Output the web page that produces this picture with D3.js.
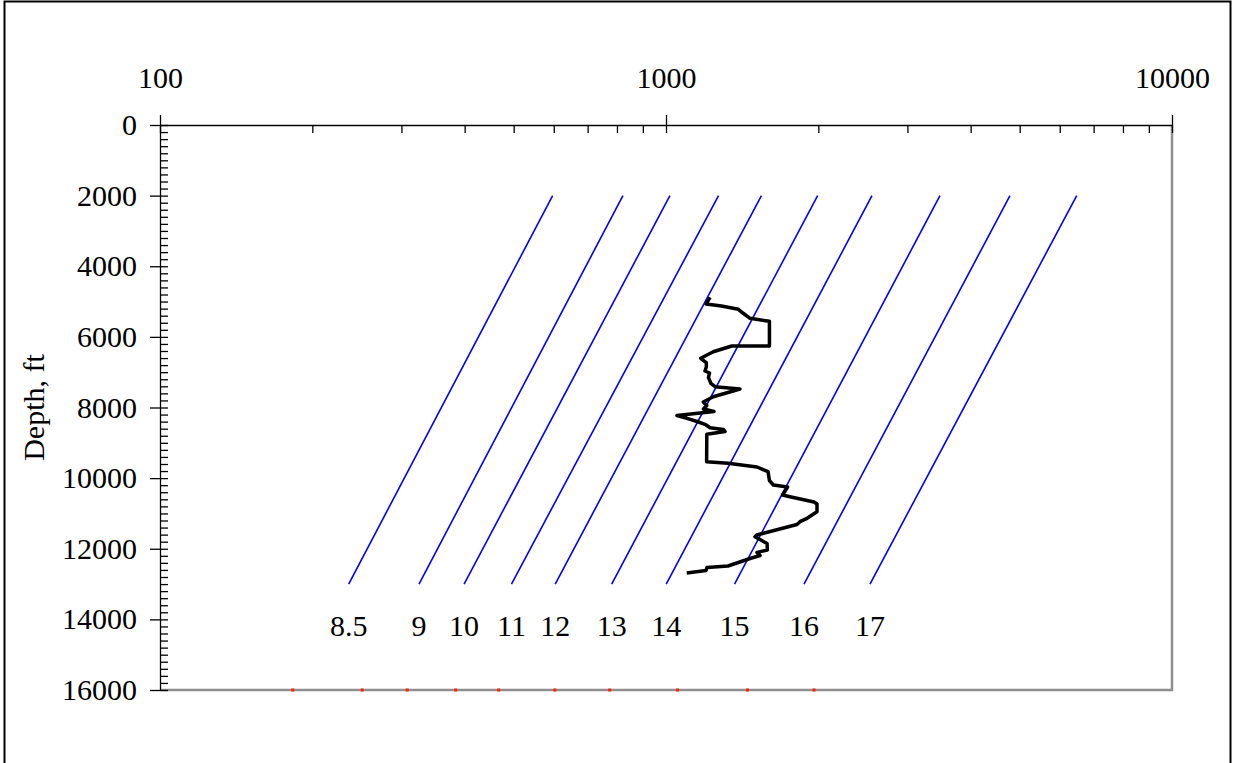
<!DOCTYPE html>
<html>
<head>
<meta charset="utf-8">
<script src="https://cdn.jsdelivr.net/npm/d3@7"></script>
<style>
	html, body { margin: 0; padding: 0; background: #fff; }
	svg { display: block; font-family: 'Times New Roman', 'Liberation Serif', serif; }
</style>
</head>
<body>
<svg id="chart"></svg>
<script>
;(() => {
	'use strict';

	// axis labels
	const valueTickLabels = [100, 1000, 10000],
		depthTickLabels = [0, 2000, 4000, 6000, 8000, 10000, 12000, 14000, 16000];

	// gradient lines: value at the shallow end, at the deep end, and the marker at 16000 ft
	const lineLabels = ['8.5', '9', '10', '11', '12', '13', '14', '15', '16', '17'],
		lineTopValues = [597, 822, 1018, 1270, 1544, 1994, 2553, 3479, 4784, 6482],
		lineBottomValues = [236, 325, 399, 495, 604, 781, 1001, 1366, 1874, 2530],
		lineMarkerValues = [183, 251, 308, 384, 467, 603, 774, 1054, 1449, 1961],
		lineTopDepth = 2000,
		lineBottomDepth = 13000,
		lineMarkerDepth = 16000;

	// measured log
	const curveDepth = [4880, 5070, 5126, 5219, 5332, 5474, 5559, 6258, 6258, 6420,
			6607, 6731, 6839, 6966, 7023, 7145, 7320, 7411, 7476, 7694,
			7844, 7943, 8042, 8113, 8227, 8306, 8396, 8476, 8572, 8623,
			8680, 8759, 9535, 9580, 9685, 9818, 10067, 10195, 10251, 10478,
			10526, 10676, 10733, 10951, 11138, 11234, 11313, 11611, 11659, 11851,
			12035, 12106, 12191, 12276, 12488, 12531, 12616, 12687],
		curveValue = [1222, 1200, 1287, 1390, 1421, 1466, 1601, 1601, 1349, 1240,
			1171, 1201, 1202, 1194, 1219, 1213, 1227, 1250, 1400, 1240,
			1185, 1204, 1186, 1244, 1051, 1100, 1152, 1194, 1222, 1299,
			1308, 1204, 1203, 1326, 1513, 1591, 1601, 1630, 1739, 1700,
			1758, 1961, 1988, 1988, 1900, 1840, 1815, 1511, 1499, 1584,
			1586, 1513, 1534, 1466, 1326, 1205, 1200, 1099];

	const width = 1233,
		height = 763,
		plot = {left: 160, right: 1172, top: 125, bottom: 690};

	const x = d3.scaleLog().domain([100, 10000]).range([plot.left, plot.right]),
		y = d3.scaleLinear().domain([0, 16000]).range([plot.top, plot.bottom]);

	const svg = d3.select('#chart')
		.attr('width', width)
		.attr('height', height);


	/**
	* frame and plot area
	* @returns {undefined}
	*/
	const drawFrame = function() {
		svg.append('rect')
			.attr('x', 0).attr('y', 0)
			.attr('width', width).attr('height', height)
			.attr('fill', '#fff');

		svg.append('rect')
			.attr('x', 4.5).attr('y', 1.5)
			.attr('width', 1226).attr('height', 820)
			.attr('fill', 'none')
			.attr('stroke', '#000')
			.attr('stroke-width', 2);

		// right + bottom edge of the plot area
		svg.append('path')
			.attr('d', `M${plot.left},${plot.bottom}H${plot.right}V${plot.top}`)
			.attr('fill', 'none')
			.attr('stroke', '#8f8f8f')
			.attr('stroke-width', 2.5);
	};


	/**
	* axes with major and minor ticks
	* @returns {undefined}
	*/
	const drawAxes = function() {
		const minorValues = x.ticks().filter((v) => valueTickLabels.indexOf(v) === -1);

		// top axis minor ticks point down into the plot
		svg.append('g')
			.attr('transform', `translate(0,${plot.top})`)
			.call(d3.axisTop(x).tickValues(minorValues).tickSize(-8).tickSizeOuter(0).tickFormat(''))
			.call((g) => g.select('.domain').remove());

		svg.append('g')
			.attr('class', 'top-axis')
			.attr('transform', `translate(0,${plot.top})`)
			.call(d3.axisTop(x).tickValues(valueTickLabels).tickSize(10).tickSizeOuter(0).tickPadding(27).tickFormat(d3.format('d')))
			.call((g) => g.selectAll('.tick').append('line').attr('y2', 8).attr('stroke', '#000'));

		// depth axis
		svg.append('g')
			.attr('transform', `translate(${plot.left},0)`)
			.call(d3.axisLeft(y).ticks(80).tickSize(-8).tickSizeOuter(0).tickFormat(''))
			.call((g) => g.select('.domain').remove());

		svg.append('g')
			.attr('class', 'left-axis')
			.attr('transform', `translate(${plot.left},0)`)
			.call(d3.axisLeft(y).tickValues(depthTickLabels).tickSize(10).tickSizeOuter(0).tickPadding(13).tickFormat(d3.format('d')));

		svg.selectAll('.top-axis text, .left-axis text')
			.attr('font-family', "'Times New Roman', 'Liberation Serif', serif")
			.attr('font-size', 30)
			.attr('fill', '#000');

		svg.selectAll('.tick line, .domain').attr('stroke', '#000').attr('stroke-width', 1.3);

		svg.append('text')
			.attr('transform', `translate(44,${(plot.top + plot.bottom) / 2}) rotate(-90)`)
			.attr('text-anchor', 'middle')
			.attr('font-size', 30)
			.text('Depth, ft');
	};


	/**
	* gradient lines with their labels
	* @returns {undefined}
	*/
	const drawGradientLines = function() {
		const lines = lineLabels.map((label, i) => ({
			label: label,
			top: lineTopValues[i],
			bottom: lineBottomValues[i],
			marker: lineMarkerValues[i]
		}));

		const g = svg.append('g').attr('class', 'gradient-lines');

		g.selectAll('line')
			.data(lines)
			.enter()
			.append('line')
			.attr('x1', (d) => x(d.top))
			.attr('y1', y(lineTopDepth))
			.attr('x2', (d) => x(d.bottom))
			.attr('y2', y(lineBottomDepth))
			.attr('stroke', '#0000ff')
			.attr('stroke-width', 1.6);

		g.selectAll('text')
			.data(lines)
			.enter()
			.append('text')
			.attr('x', (d) => x(d.bottom))
			.attr('y', y(lineBottomDepth) + 52)
			.attr('text-anchor', 'middle')
			.attr('font-size', 30)
			.text((d) => d.label);

		g.selectAll('rect')
			.data(lines)
			.enter()
			.append('rect')
			.attr('x', (d) => x(d.marker) - 1.5)
			.attr('y', y(lineMarkerDepth) - 1.5)
			.attr('width', 3)
			.attr('height', 3)
			.attr('fill', '#ff2000');
	};


	/**
	* the measured curve
	* @returns {undefined}
	*/
	const drawCurve = function() {
		const points = curveDepth.map((d, i) => [curveValue[i], d]);
		const line = d3.line()
			.x((d) => x(d[0]))
			.y((d) => y(d[1]));

		svg.append('path')
			.datum(points)
			.attr('d', line)
			.attr('fill', 'none')
			.attr('stroke', '#000')
			.attr('stroke-width', 3.5)
			.attr('stroke-linejoin', 'round');
	};


	const init = function() {
		drawFrame();
		drawGradientLines();
		drawCurve();
		drawAxes();
	};

	init();

})();
</script>
</body>
</html>
